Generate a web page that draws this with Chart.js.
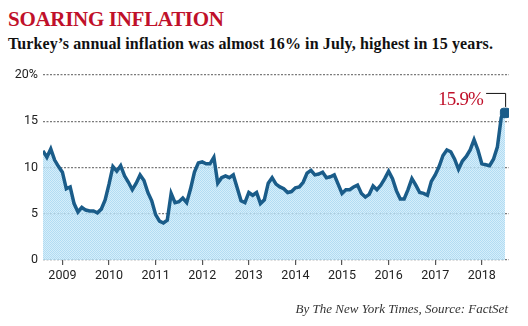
<!DOCTYPE html>
<html>
<head>
<meta charset="utf-8">
<script src="https://cdn.jsdelivr.net/npm/chart.js@4.4.1/dist/chart.umd.min.js"></script>
<style>
  html, body { margin: 0; padding: 0; background: #fff; }
  #wrap { position: relative; width: 528px; height: 326px; overflow: hidden; }
  #chart { position: absolute; left: 0; top: 0; }
  .title { position: absolute; left: 8px; top: 7px; font: bold 21px "Liberation Serif", serif; color: #c0102a; letter-spacing: -0.3px; }
  .subtitle { position: absolute; left: 8px; top: 35px; font: bold 16px "Liberation Serif", serif; color: #111; letter-spacing: 0.12px; }
  .source { position: absolute; right: 20px; top: 301px; font: italic 13px "Liberation Serif", serif; color: #333; }
</style>
</head>
<body>
<div id="wrap">
  <div class="title">SOARING INFLATION</div>
  <div class="subtitle">Turkey’s annual inflation was almost 16% in July, highest in 15 years.</div>
  <canvas id="chart" width="528" height="326"></canvas>
  <div class="source">By The New York Times, Source: FactSet</div>
</div>
<script>
// Monthly annual inflation (%), Aug 2008 through Jul 2018
const firstMonth = 'Aug 2008';
const inflation = [
  11.8, 11.1, 12.0, 10.8, 10.1,                                      // 2008 Aug-Dec
  9.5, 7.7, 7.9, 6.1, 5.2, 5.7, 5.4, 5.3, 5.3, 5.1, 5.5, 6.5,        // 2009
  8.2, 10.1, 9.6, 10.2, 9.1, 8.4, 7.6, 8.3, 9.2, 8.6, 7.3, 6.4,      // 2010
  4.9, 4.2, 4.0, 4.3, 7.2, 6.2, 6.3, 6.7, 6.2, 7.7, 9.5, 10.5,       // 2011
  10.6, 10.4, 10.4, 11.1, 8.3, 8.9, 9.1, 8.9, 9.2, 7.8, 6.4, 6.2,    // 2012
  7.3, 7.0, 7.3, 6.1, 6.5, 8.3, 8.9, 8.2, 7.9, 7.7, 7.3, 7.4,        // 2013
  7.8, 7.9, 8.4, 9.4, 9.7, 9.2, 9.3, 9.5, 8.9, 9.0, 9.2, 8.2,        // 2014
  7.2, 7.6, 7.6, 7.9, 8.1, 7.2, 6.8, 7.1, 8.0, 7.6, 8.1, 8.8,        // 2015
  9.6, 8.8, 7.5, 6.6, 6.6, 7.6, 8.8, 8.1, 7.3, 7.2, 7.0, 8.5,        // 2016
  9.2, 10.1, 11.3, 11.9, 11.7, 10.9, 9.8, 10.7, 11.2, 11.9, 13.0, 11.9, // 2017
  10.4, 10.3, 10.2, 10.9, 12.2, 15.4, 15.9                            // 2018 Jan-Jul
];
const yearLabels = ['2009', '2010', '2011', '2012', '2013', '2014', '2015', '2016', '2017', '2018'];
const firstJanIndex = 5; // Jan 2009 is the 6th month after Aug 2008
const yTicks = [0, 5, 10, 15, 20];
const lastLabel = '15.9%';

const points = inflation.map((v, i) => ({ x: i, y: v }));
const lastIdx = points.length - 1;

// pale dotted fill like the print graphic
function makeFillPattern() {
  const c = document.createElement('canvas');
  c.width = 2; c.height = 2;
  const g = c.getContext('2d');
  g.fillStyle = 'rgba(200,232,248,0.75)';
  g.fillRect(0, 0, 2, 2);
  g.fillStyle = 'rgba(165,214,240,0.75)';
  g.fillRect(0, 0, 1, 1);
  g.fillRect(1, 1, 1, 1);
  return g.createPattern(c, 'repeat');
}

// leader line and value label for the last point
const endLabel = {
  id: 'endLabel',
  afterDatasetsDraw(chart) {
    const ctx = chart.ctx;
    const pt = chart.getDatasetMeta(0).data[lastIdx];
    const x = pt.x, y = pt.y;
    ctx.save();
    ctx.strokeStyle = '#111';
    ctx.lineWidth = 1;
    ctx.beginPath();
    ctx.moveTo(x + 0.5, y - 6);
    ctx.lineTo(x + 0.5, y - 19.5);
    ctx.lineTo(x - 19, y - 19.5);
    ctx.stroke();
    ctx.fillStyle = '#c0102a';
    ctx.font = '19px "Liberation Serif", serif';
    ctx.letterSpacing = '-0.8px';
    ctx.textAlign = 'right';
    ctx.textBaseline = 'alphabetic';
    ctx.fillText(lastLabel, x - 22, y - 8);
    ctx.restore();
  }
};

new Chart(document.getElementById('chart'), {
  type: 'line',
  data: {
    datasets: [{
      label: 'Annual inflation',
      data: points,
      borderColor: '#1a5c89',
      borderWidth: 3.5,
      backgroundColor: makeFillPattern(),
      fill: 'origin',
      tension: 0,
      pointRadius: points.map((p, i) => i === lastIdx ? 5.5 : 0),
      pointStyle: 'rectRounded',
      pointBackgroundColor: '#1a5c89',
      pointBorderColor: '#1a5c89',
      pointBorderWidth: 1
    }]
  },
  options: {
    responsive: false,
    animation: false,
    events: [],
    layout: { padding: { left: 0, top: 75, right: 19, bottom: 0 } },
    plugins: {
      legend: { display: false },
      tooltip: { enabled: false }
    },
    scales: {
      x: {
        type: 'linear',
        min: 0,
        max: 120,
        afterFit(scale) { scale.height = 66; },
        afterBuildTicks(scale) {
          scale.ticks = yearLabels.map((y, i) => ({ value: firstJanIndex + i * 12 }));
        },
        border: { display: false },
        grid: {
          drawOnChartArea: false,
          drawTicks: true,
          tickLength: 5,
          color: '#555',
          lineWidth: 1.2
        },
        ticks: {
          autoSkip: false,
          maxRotation: 0,
          padding: 3,
          color: '#222',
          font: { family: 'Roboto', size: 12.5 },
          callback: (v) => yearLabels[(v - firstJanIndex) / 12]
        }
      },
      y: {
        min: 0,
        max: 20,
        afterFit(scale) { scale.width = 43; },
        afterBuildTicks(scale) {
          scale.ticks = yTicks.map(v => ({ value: v }));
        },
        border: { display: false, dash: [2, 1.5] },
        grid: {
          drawTicks: false,
          color: '#7a7a7a',
          lineWidth: 1.3
        },
        ticks: {
          padding: 5,
          color: '#222',
          font: { family: 'Roboto', size: 12.5 },
          callback: (v) => v === 20 ? '20%' : String(v)
        }
      }
    }
  },
  plugins: [endLabel]
});
</script>
</body>
</html>
